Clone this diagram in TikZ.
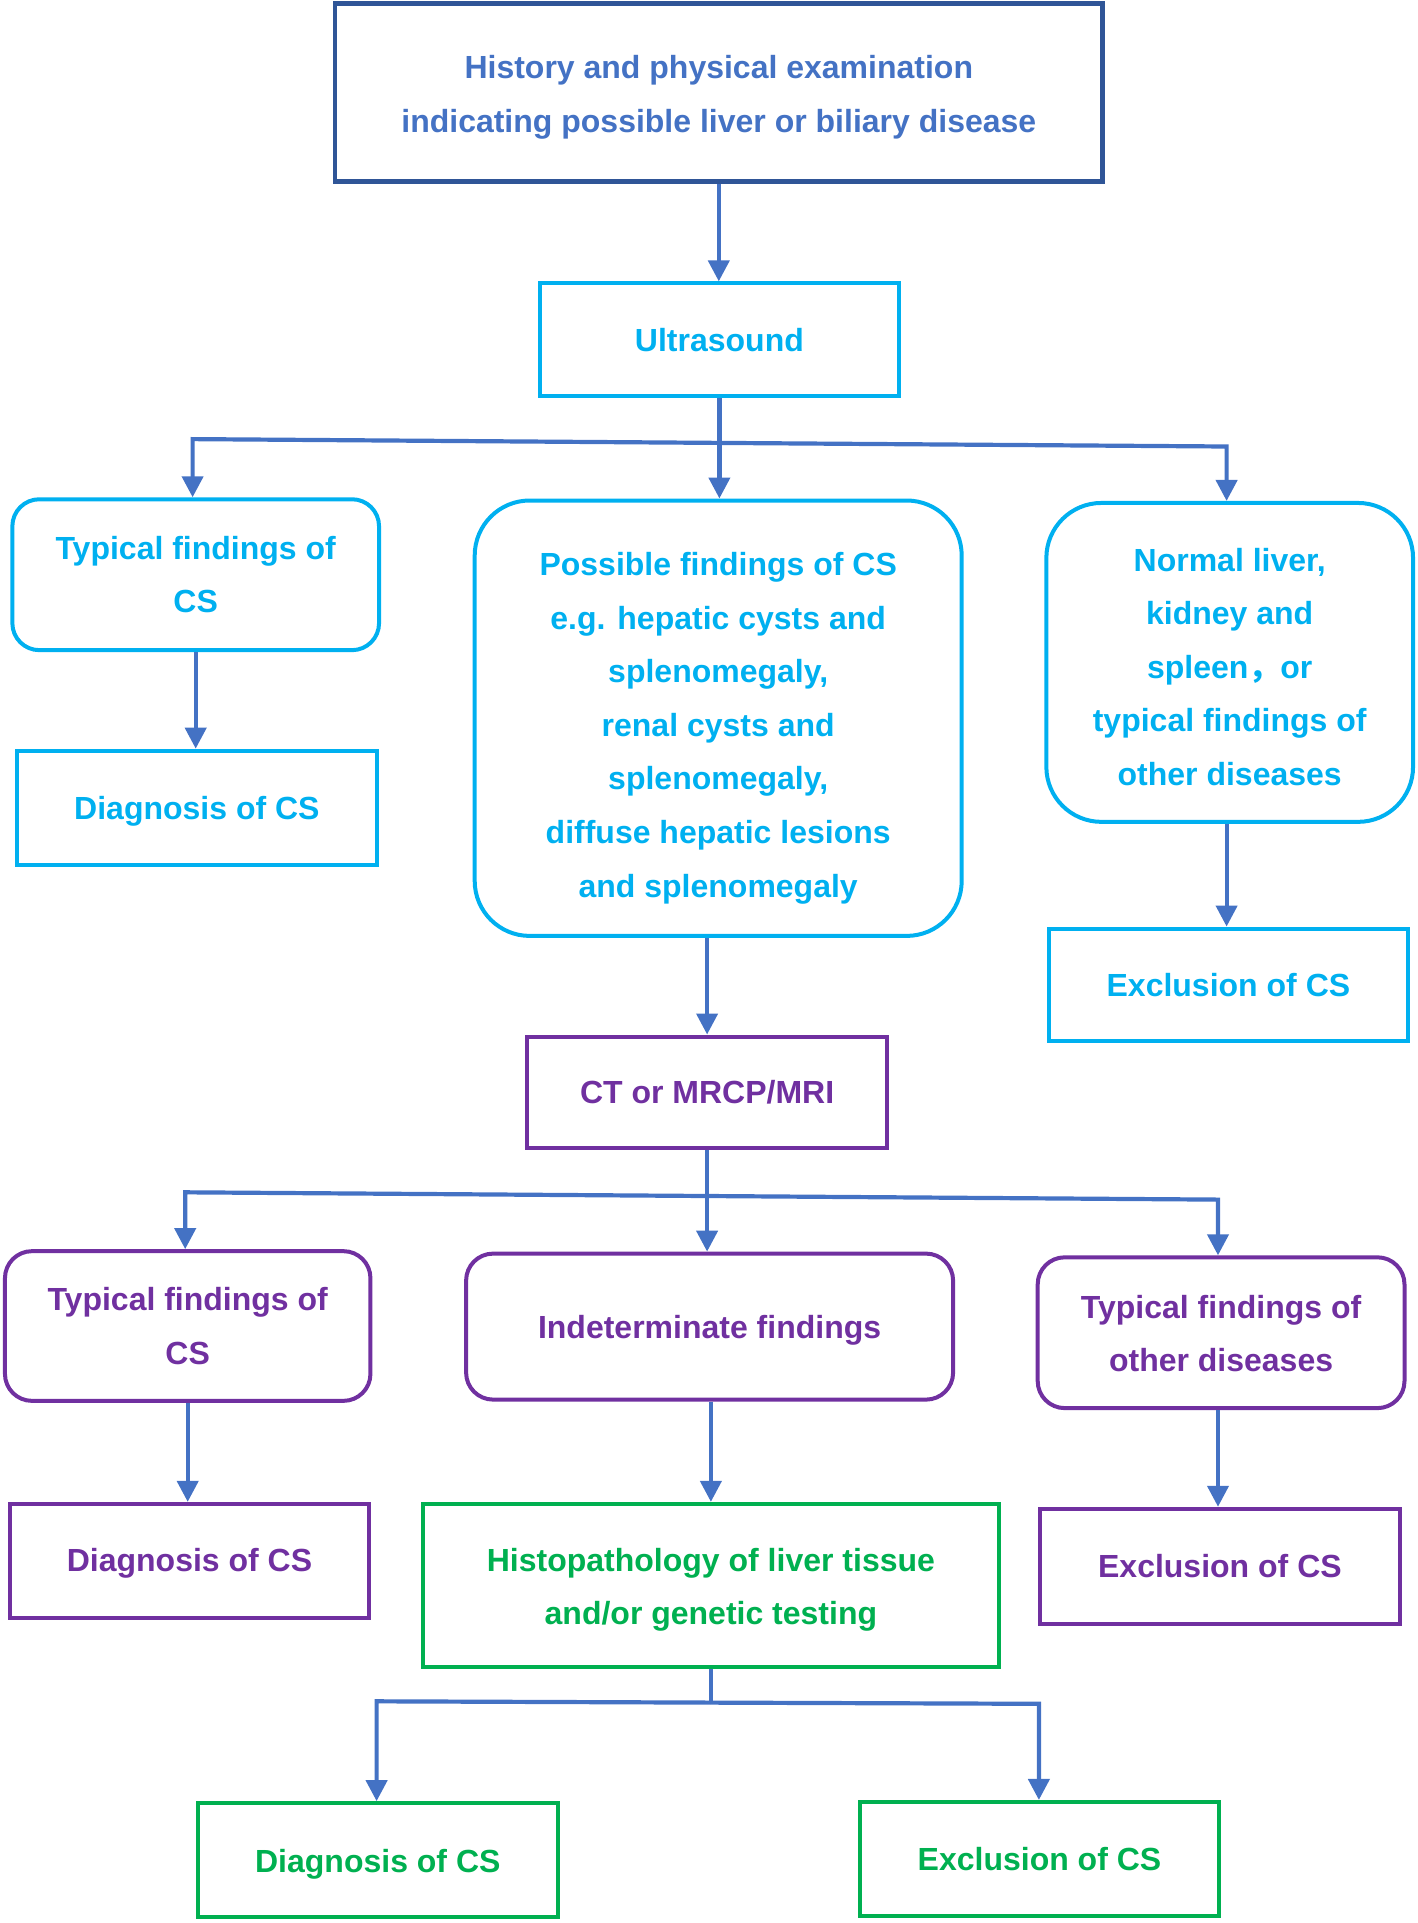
\documentclass[tikz,border=0pt]{standalone}
\usepackage{fontspec}
\setmainfont{Liberation Sans}
\newfontfamily\cjk{Noto Sans CJK SC}
\usetikzlibrary{arrows.meta}
\definecolor{cyanc}{HTML}{00B0F0}
\definecolor{purplec}{HTML}{7030A0}
\definecolor{greenc}{HTML}{00B050}
\definecolor{linkc}{HTML}{4472C4}
\definecolor{topc}{HTML}{2F5597}
\newcommand\lift[1]{\rule{0pt}{#1pt}}
\begin{document}
\begin{tikzpicture}[x=1pt,y=-1pt,
  box/.style={draw, line width=4pt, inner sep=0pt, align=center,
    font=\fontsize{32}{53.6}\selectfont\bfseries},
  topbox/.style={box, line width=4.5pt, draw=topc, text=linkc},
  cyanbox/.style={box, draw=cyanc, text=cyanc},
  purplebox/.style={box, draw=purplec, text=purplec},
  greenbox/.style={box, draw=greenc, text=greenc},
  ln/.style={draw=linkc, line width=4.2pt},
  arr/.style={draw=linkc, line width=4.2pt, line join=miter,
    -{Triangle[width=21pt,length=21pt]}},
]
\useasboundingbox (0,0) rectangle (1418,1923);

% nodes
\node[topbox, minimum width=767.8pt, minimum height=177.8pt] (top) at (718.8,92.6)
  {\lift{33}History and physical examination\\indicating possible liver or biliary disease};
\node[cyanbox, minimum width=359.4pt, minimum height=112.9pt] (us) at (719.4,339.8) {Ultrasound};
\node[cyanbox, rounded corners=27pt, minimum width=366.7pt, minimum height=150.9pt] (t1) at (195.7,574.7)
  {Typical findings of\\CS};
\node[cyanbox, rounded corners=55pt, minimum width=487pt, minimum height=435.4pt] (p) at (718.2,718.2)
  {\lift{43}Possible findings of CS\\e.g. hepatic cysts and\\splenomegaly,\\renal cysts and\\splenomegaly,\\diffuse hepatic lesions\\and splenomegaly};
\node[cyanbox, rounded corners=55pt, minimum width=366.7pt, minimum height=318.9pt] (n) at (1229.7,662.4)
  {\lift{32}Normal liver,\\kidney and\\spleen{\cjk ，}or\\typical findings of\\other diseases};
\node[cyanbox, minimum width=359.4pt, minimum height=114.1pt] (d1) at (196.9,807.7) {\lift{30.5}Diagnosis of CS};
\node[cyanbox, minimum width=359.4pt, minimum height=112.9pt] (e1) at (1228.4,985) {Exclusion of CS};
\node[purplebox, minimum width=359.4pt, minimum height=111.6pt] (ct) at (707.1,1092.3) {CT or MRCP/MRI};
\node[purplebox, rounded corners=27pt, minimum width=365.5pt, minimum height=149.7pt] (t2) at (187.7,1326)
  {Typical findings of\\CS};
\node[purplebox, rounded corners=27pt, minimum width=487pt, minimum height=146pt] (ind) at (709.6,1326.6)
  {\lift{30.5}Indeterminate findings};
\node[purplebox, rounded corners=27pt, minimum width=366.8pt, minimum height=150.8pt] (o) at (1221.1,1332.7)
  {\lift{25}Typical findings of\\other diseases};
\node[purplebox, minimum width=359.4pt, minimum height=114.1pt] (d2) at (189.5,1560.9) {\lift{28.5}Diagnosis of CS};
\node[greenbox, minimum width=575.3pt, minimum height=163.1pt] (h) at (710.9,1585.4)
  {\lift{32.3}Histopathology of liver tissue\\and/or genetic testing};
\node[purplebox, minimum width=359.4pt, minimum height=115.3pt] (e2) at (1219.9,1566.4) {Exclusion of CS};
\node[greenbox, minimum width=360.6pt, minimum height=114.1pt] (d3) at (377.8,1860.2) {\lift{30.5}Diagnosis of CS};
\node[greenbox, minimum width=359.4pt, minimum height=114.1pt] (e3) at (1039.5,1859) {Exclusion of CS};

% branch points
\coordinate (b1L) at (192.6,439.1);
\coordinate (b1R) at (1226.6,446.5);
\coordinate (b1M) at (719.4,442.9);
\coordinate (b2L) at (185.2,1192.3);
\coordinate (b2R) at (1218.0,1199.6);
\coordinate (b2M) at (707.1,1196.0);
\coordinate (b3L) at (376.6,1701.3);
\coordinate (b3R) at (1038.9,1703.8);
\coordinate (b3M) at (710.9,1702.6);

% connectors
\draw[arr] (top.south) -- (top.south |- us.north);
\draw[arr] (us.south) -- (us.south |- p.north);
\draw[arr] (b1M) -- (b1L) -- (b1L |- t1.north);
\draw[arr] (b1M) -- (b1R) -- (b1R |- n.north);
\draw[arr] (t1.south) -- (t1.south |- d1.north);
\draw[arr] (b1R |- n.south) -- (b1R |- e1.north);
\draw[arr] (ct.north |- p.south) -- (ct.north);
\draw[arr] (ct.south) -- (ct.south |- ind.north);
\draw[arr] (b2M) -- (b2L) -- (b2L |- t2.north);
\draw[arr] (b2M) -- (b2R) -- (b2R |- o.north);
\draw[arr] (t2.south) -- (t2.south |- d2.north);
\draw[arr] (h.north |- ind.south) -- (h.north);
\draw[arr] (b2R |- o.south) -- (b2R |- e2.north);
\draw[ln] (h.south) -- (b3M);
\draw[arr] (b3M) -- (b3L) -- (b3L |- d3.north);
\draw[arr] (b3M) -- (b3R) -- (b3R |- e3.north);
\end{tikzpicture}
\end{document}
